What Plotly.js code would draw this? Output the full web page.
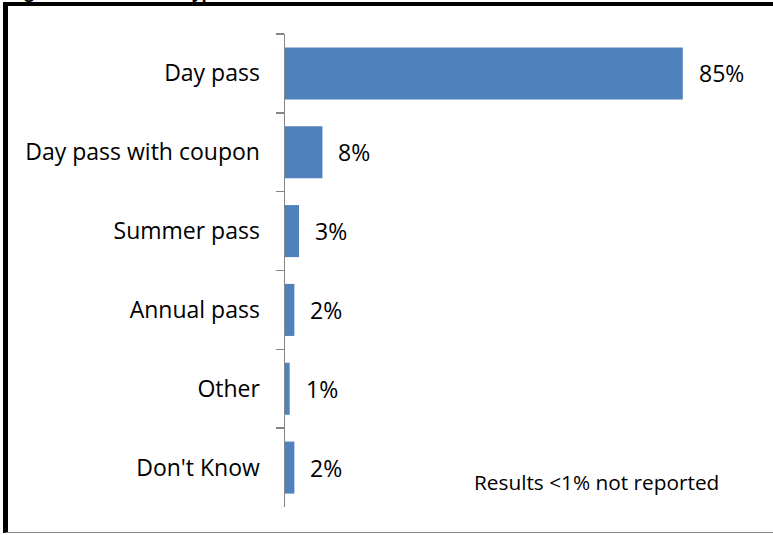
<!DOCTYPE html>
<html>
<head>
<meta charset="utf-8">
<script src="https://cdn.plot.ly/plotly-3.0.1.min.js"></script>
<style>
  html, body { margin: 0; padding: 0; background: #fff; }
  #wrap { position: relative; width: 773px; height: 535px; overflow: hidden; }
  #chart { position: absolute; left: 0; top: 0; width: 773px; height: 535px; }
  #frame { position: absolute; left: 3px; top: 2px; width: 780px; height: 531px;
           border-top: 4px solid #000; border-left: 5px solid #000; border-bottom: 1px solid #888;
           box-sizing: border-box; pointer-events: none; }
</style>
</head>
<body>
<div id="wrap">
  <div id="chart"></div>
  <div id="frame"></div>
</div>
<script>
const categories = ["Day pass", "Day pass with coupon", "Summer pass", "Annual pass", "Other", "Don't Know"];
const values = [0.85, 0.08, 0.03, 0.02, 0.01, 0.02];
const valueLabels = ["85%", "8%", "3%", "2%", "1%", "2%"];
const noteText = "Results <1% not reported";
const titleText = "Figure 14: Park Pass Types";

const FONT = "'Open Sans', 'Noto Sans', sans-serif";

const trace = {
  type: "bar",
  orientation: "h",
  y: categories,
  x: values,
  marker: { color: "#4F81BD", line: { color: "#4F81BD", width: 0 } },
  hoverinfo: "skip"
};

const annotations = categories.map((c, i) => ({
  x: values[i], y: c, xref: "x", yref: "y",
  text: valueLabels[i], showarrow: false,
  xanchor: "left", yanchor: "middle", xshift: 14,
  font: { family: FONT, size: 23, color: "#000" }
}));
annotations.push({
  x: 0.931, y: "Don't Know", xref: "x", yref: "y",
  text: noteText, showarrow: false,
  xanchor: "right", yanchor: "middle", yshift: -14,
  font: { family: FONT, size: 20.8, color: "#000" }
});
annotations.push({
  x: -0.592, y: 1, xref: "paper", yref: "paper",
  text: "<b>" + titleText + "</b>", showarrow: false,
  xanchor: "left", yanchor: "bottom", yshift: 29,
  font: { family: FONT, size: 17, color: "#000" }
});

const layout = {
  width: 773, height: 535,
  margin: { l: 285, r: 20, t: 34, b: 28, pad: 0 },
  paper_bgcolor: "#fff", plot_bgcolor: "#fff",
  showlegend: false,
  bargap: 0.34,
  xaxis: { range: [0, 1], visible: false, showgrid: false, zeroline: false, fixedrange: true },
  yaxis: {
    type: "category", autorange: "reversed",
    showline: true, linecolor: "#868686", linewidth: 1.5,
    ticks: "outside", tickson: "boundaries", ticklen: 8, tickcolor: "#868686", tickwidth: 1.5,
    ticklabelstandoff: 19,
    tickfont: { family: FONT, size: 23, color: "#000" },
    showgrid: false, zeroline: false, fixedrange: true
  },
  annotations: annotations
};

Plotly.newPlot("chart", [trace], layout, { staticPlot: true, displayModeBar: false });
</script>
</body>
</html>
